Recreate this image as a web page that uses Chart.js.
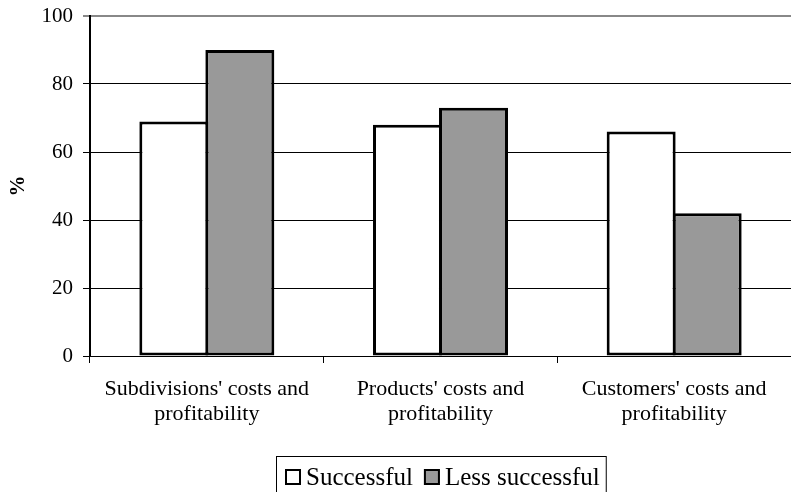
<!DOCTYPE html>
<html>
<head>
<meta charset="utf-8">
<script src="https://cdn.jsdelivr.net/npm/chart.js@4.4.0/dist/chart.umd.min.js"></script>
<style>
  body { margin: 0; background: #fff; }
</style>
</head>
<body>
<canvas id="chart1" width="791" height="492"></canvas>
<script>
// data
var categories = [
    ["Subdivisions' costs and", "profitability"],
    ["Products' costs and", "profitability"],
    ["Customers' costs and", "profitability"]
];
var successful = [69, 68, 66];
var lessSuccessful = [90, 73, 42];
var yTicks = [0, 20, 40, 60, 80, 100];

var serif = '"Liberation Serif", "Times New Roman", serif';

// boxed legend under the plot: square marker right next to its text,
// drawn by hand because the built-in one leaves a wide gap
var boxedLegend = {
    id: 'boxedLegend',
    afterDraw: function(chart) {
        var c = chart.ctx, ca = chart.chartArea;
        var sets = chart.data.datasets;
        c.save();
        c.font = '25px ' + serif;
        var sq = 16, gap = 5, between = 11, padL = 9, padR = 6;
        var total = 0;
        sets.forEach(function(ds, i) {
            total += sq + gap + c.measureText(ds.label).width + (i ? between : 0);
        });
        var boxW = total + padL + padR;
        var boxLeft = Math.round((ca.left + ca.right) / 2 - boxW / 2);
        var boxTop = chart.scales.x.bottom;
        c.strokeStyle = '#000';
        c.lineWidth = 1;
        c.strokeRect(boxLeft + 0.5, boxTop + 0.5, boxW, 60);
        var x = boxLeft + padL;
        var base = boxTop + 29;
        c.textBaseline = 'alphabetic';
        sets.forEach(function(ds) {
            c.fillStyle = ds.backgroundColor;
            c.fillRect(x, base - sq, sq, sq);
            c.lineWidth = 2;
            c.strokeStyle = '#000';
            c.strokeRect(x + 1, base - sq + 1, sq - 2, sq - 2);
            c.fillStyle = '#000';
            c.fillText(ds.label, x + sq + gap, base);
            x += sq + gap + c.measureText(ds.label).width + between;
        });
        c.restore();
    }
};

var ctx = document.getElementById('chart1').getContext('2d');

var myChart = new Chart(ctx, {
    type: 'bar',
    data: {
        labels: categories,
        datasets: [{
            label: 'Successful',
            data: successful,
            backgroundColor: '#ffffff',
            borderColor: '#000000',
            borderWidth: 3,
            borderSkipped: false
        }, {
            label: 'Less successful',
            data: lessSuccessful,
            backgroundColor: '#999999',
            borderColor: '#000000',
            borderWidth: 3,
            borderSkipped: false
        }]
    },
    options: {
        responsive: false,
        animation: false,
        devicePixelRatio: 1,
        layout: {
            padding: { top: 16, right: 0, left: 0, bottom: 36 }
        },
        datasets: {
            bar: {
                // neighbouring bars share one border line
                categoryPercentage: 0.565,
                barPercentage: 1.045
            }
        },
        scales: {
            x: {
                grid: {
                    offset: true,
                    drawOnChartArea: false,
                    drawTicks: true,
                    tickLength: 7,
                    color: '#000'
                },
                border: { color: '#000', width: 1 },
                ticks: {
                    color: '#000',
                    font: { family: serif, size: 22, lineHeight: 1.12 },
                    maxRotation: 0,
                    padding: 14
                },
                afterFit: function(scale) { scale.height = 100; }
            },
            y: {
                min: 0,
                max: 100,
                afterBuildTicks: function(scale) {
                    scale.ticks = yTicks.map(function(v) { return { value: v }; });
                },
                grid: {
                    color: function(c) { return c.tick && c.tick.value === 100 ? '#888' : '#000'; },
                    lineWidth: function(c) { return c.tick && c.tick.value === 100 ? 2 : 1; },
                    tickLength: 7
                },
                border: { color: '#000', width: 2 },
                ticks: {
                    color: '#000',
                    font: { family: serif, size: 21 },
                    padding: 10
                },
                title: {
                    display: true,
                    text: '%',
                    color: '#000',
                    font: { family: serif, size: 21, weight: 'bold' },
                    padding: { top: 6, bottom: 0 }
                },
                afterFit: function(scale) {
                    scale.width = 90;
                    scale.paddingTop = 0;
                    scale.paddingBottom = 0;
                }
            }
        },
        plugins: {
            legend: { display: false },
            tooltip: { enabled: false }
        }
    },
    plugins: [boxedLegend]
});
</script>
</body>
</html>
